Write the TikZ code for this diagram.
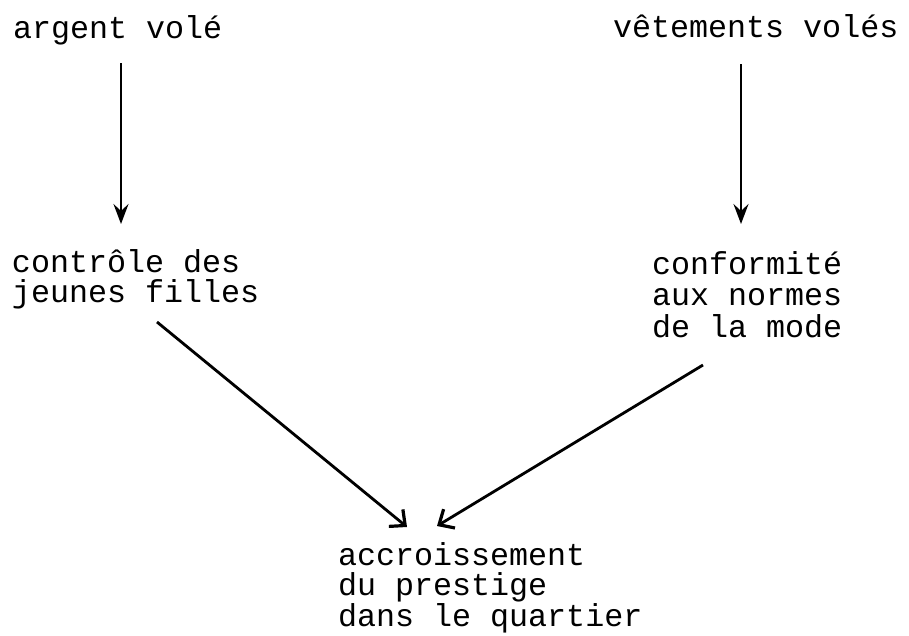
\documentclass[tikz,border=0pt]{standalone}
\usepackage{fontspec}
\setmonofont{Liberation Mono}
\usetikzlibrary{arrows.meta}
\tikzset{
  lbl/.style={inner sep=0pt, outer sep=0pt, anchor=base west, align=left,
              font=\ttfamily\fontsize{31.7}{30}\selectfont},
  vline/.style={line width=2.6pt, -{Stealth[length=20pt,width=15pt,inset=7pt]}},
  dline/.style={line width=2.8pt, -{Straight Barb[length=12pt,width=22pt,line width=3.2pt]}}
}
\begin{document}
\begin{tikzpicture}[x=1pt,y=-1pt]
\useasboundingbox (0,0) rectangle (909,635);
% multi-line nodes: base anchor = baseline of last line
\node[lbl] (argent) at (13,38) {argent volé};
\node[lbl] (vetements) at (613,37) {vêtements volés};
\node[lbl] (controle) at (12,302) {contrôle des\\jeunes filles};
\node[lbl, font=\ttfamily\fontsize{31.7}{31.5}\selectfont] (conformite) at (652,337) {conformité\\aux normes\\de la mode};
\node[lbl, font=\ttfamily\fontsize{31.7}{29.5}\selectfont] (prestige) at (338,626) {accroissement\\du prestige\\dans le quartier};
\coordinate (a1s) at (121,63);
\coordinate (a1e) at (121,224);
\coordinate (a2s) at (741,64);
\coordinate (a2e) at (741,224);
\coordinate (a3s) at (157,322);
\coordinate (a3e) at (407,527);
\coordinate (a4s) at (703,365);
\coordinate (a4e) at (437,526);
\draw[vline] (a1s) -- (a1e);
\draw[vline] (a2s) -- (a2e);
\draw[dline] (a3s) -- (a3e);
\draw[dline] (a4s) -- (a4e);
\end{tikzpicture}
\end{document}
